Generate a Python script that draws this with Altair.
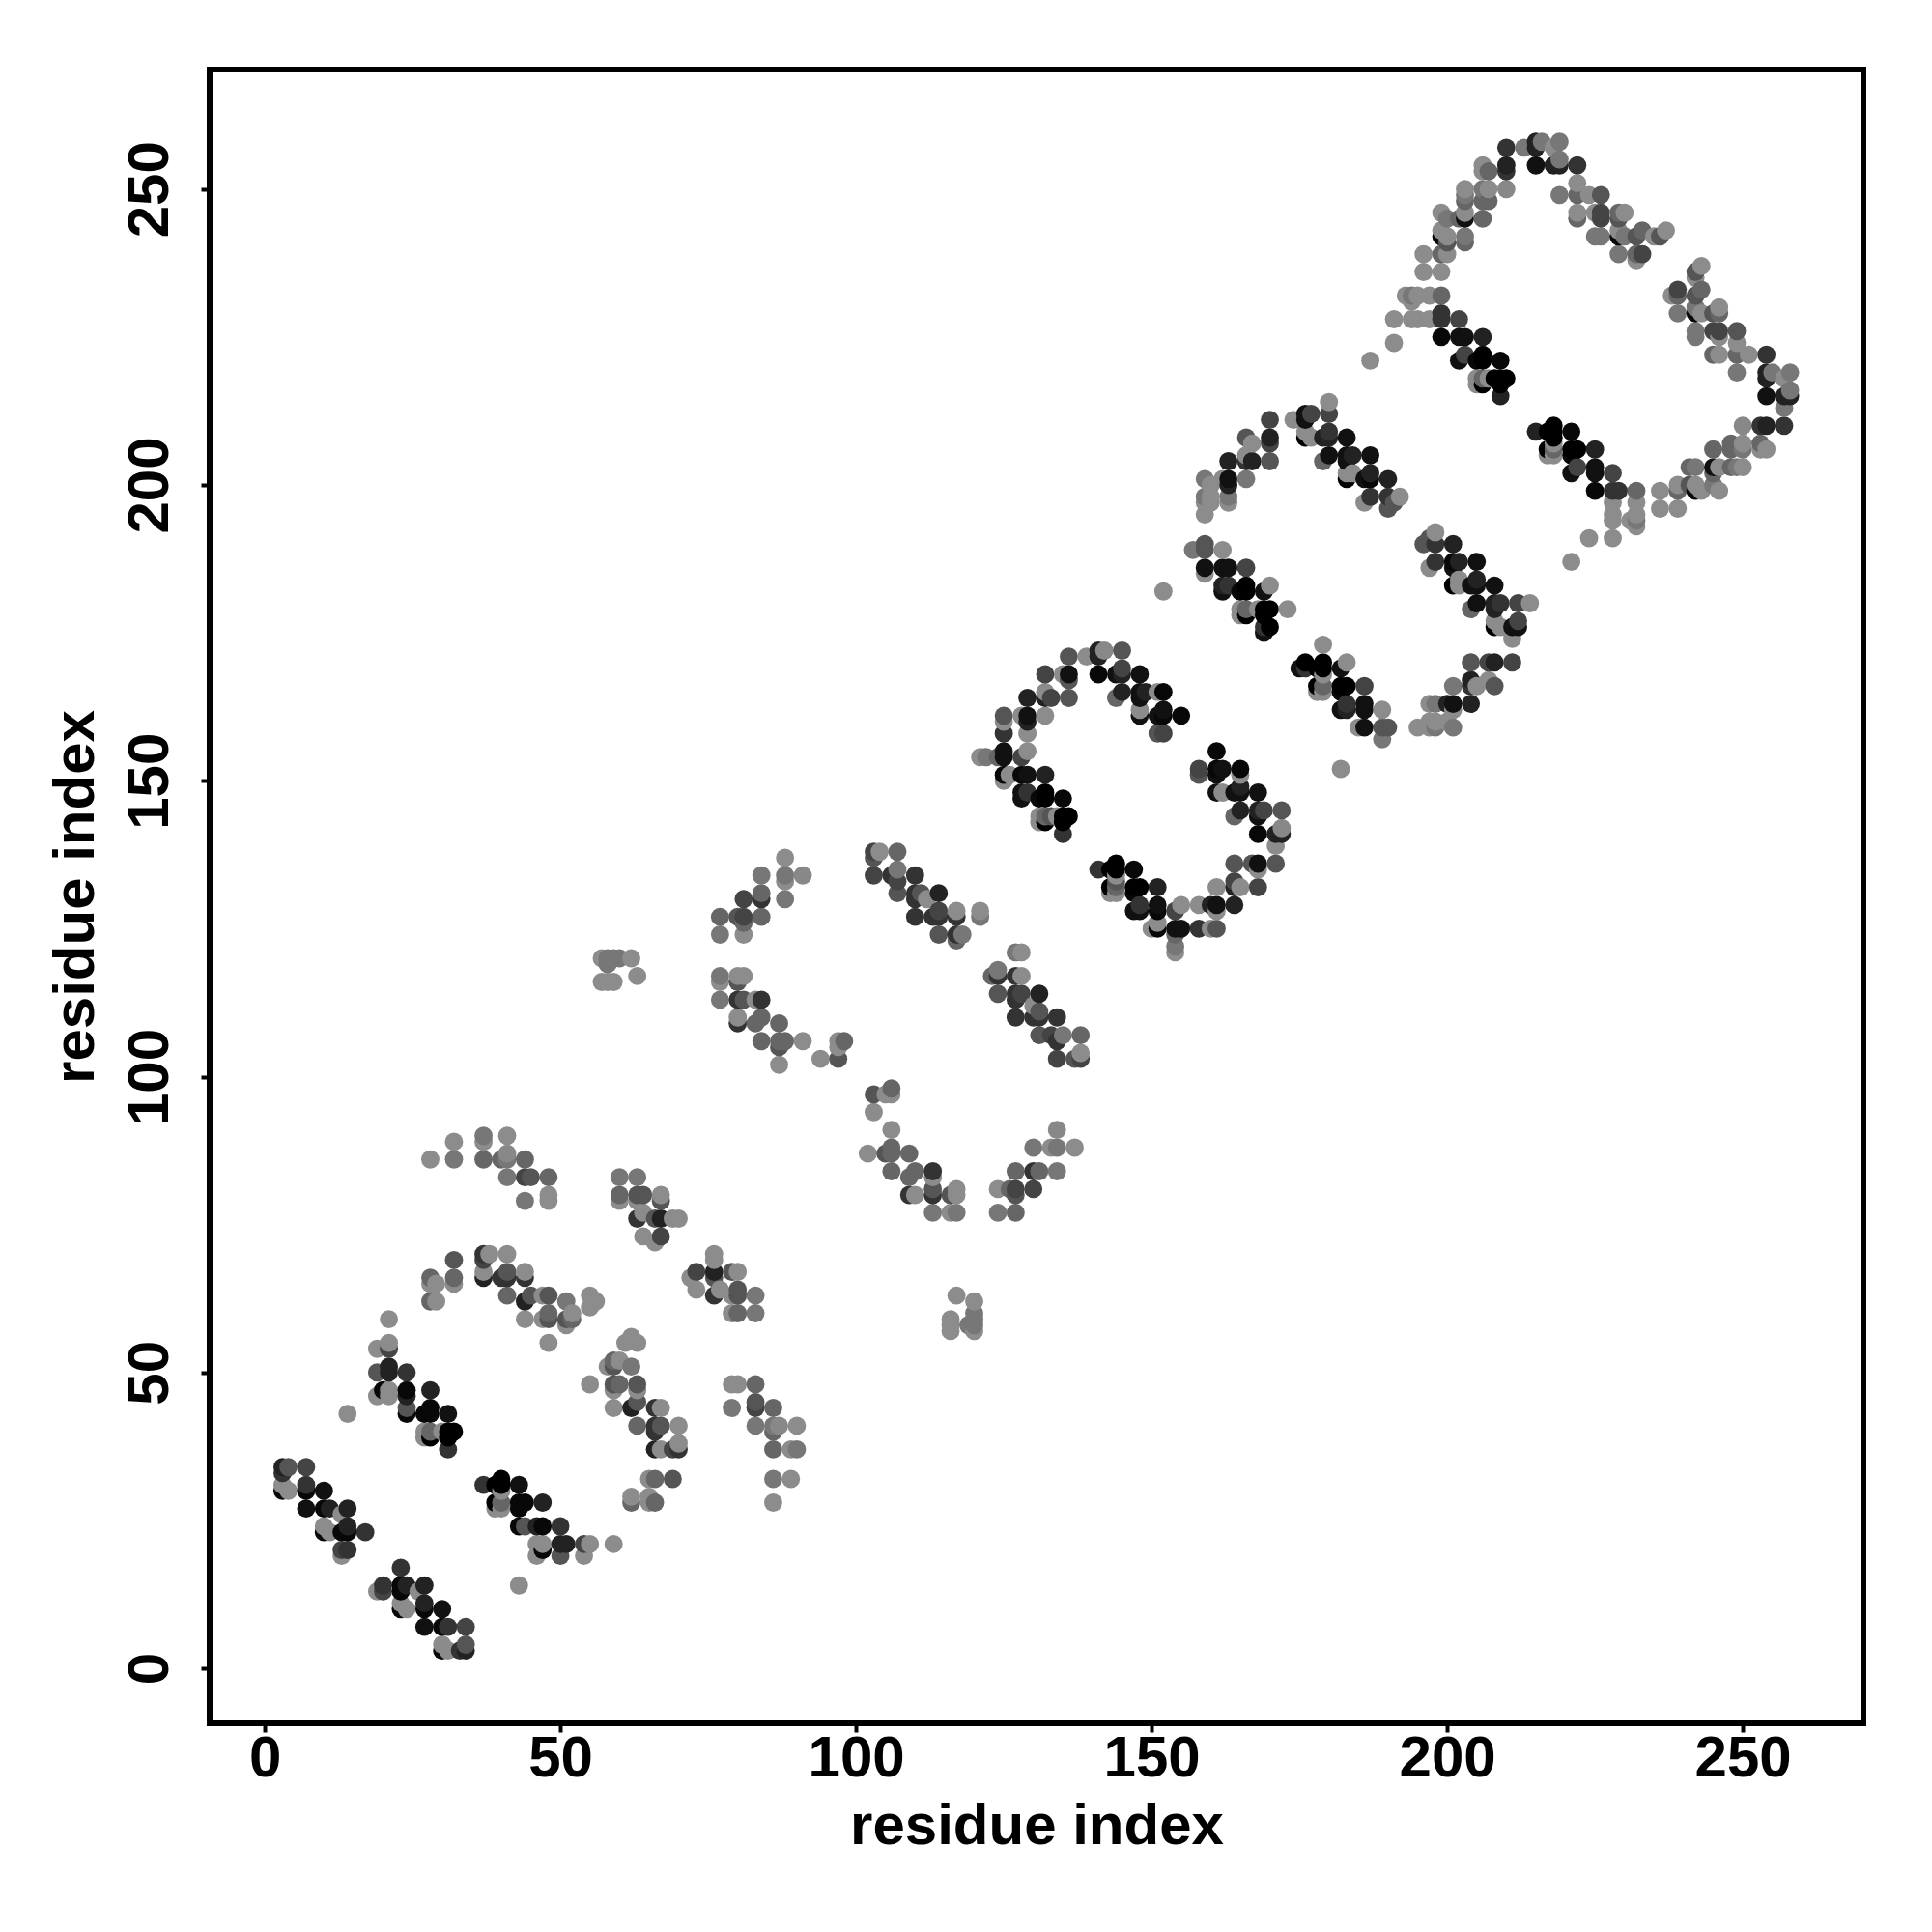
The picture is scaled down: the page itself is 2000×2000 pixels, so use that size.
import altair as alt
import pandas as pd

# (i, j, grey) contacts read from the upper half of the symmetric map
BLOCK_A = [(3,34,34),(4,34,85),(7,34,68),(3,33,51),(3,31,140),(3,30,8),(4,30,140),(7,31,51),(7,30,8),(10,30,17),
           (7,27,17),(10,27,8),(11,27,34),(14,27,34),(13,26,140),(10,23,8),(10,24,140),(11,23,140),(14,24,34),
           (13,23,8),(14,23,8),(17,23,51),(13,19,140),(13,20,68),(14,20,51),(14,43,140)]
BLOCK_B = [(19,54,140),(21,59,140),(21,54,68),(21,55,140),(19,50,85),(21,50,34),(21,51,34),(24,50,51),(19,46,140),
           (20,47,8),(21,46,140),(21,47,140),(24,47,8),(24,46,34),(24,44,85),(24,43,8),(28,47,34),(28,44,8),(27,43,8),
           (28,43,8),(31,43,17),(27,39,140),(27,40,140),(28,39,0),(28,40,102),(30,40,140),(31,39,0),(31,40,0),(32,40,0),(31,37,51)]
BLOCK_C = [(28,62,102),(29,62,140),(28,65,140),(28,66,102),(29,65,140),(32,65,140),(32,66,102),(32,69,85),
           (37,66,34),(37,67,140),(37,69,68),(37,70,51),(38,70,140),(41,70,140),(40,66,51),(41,66,51),(41,67,85),(41,63,102),
           (44,66,51),(44,67,140),(44,62,34),(45,63,85),(44,59,140),(47,63,140),(48,63,85),(48,60,102),(48,59,85),(47,59,140),
           (48,55,140),(51,62,119),(51,59,85),(51,58,140),(52,59,102),(52,60,140),(55,63,140),(56,62,140),(55,61,140)]
BLOCK_D = [(72,66,140),(73,67,68),(73,64,140),(76,70,140),(76,69,140),(76,67,34),(76,66,85),(76,63,51),(77,64,140),
           (79,67,85),(80,67,140),(79,63,140),(80,64,85),(80,63,85),(83,63,119),(79,60,140),(80,60,102),(83,60,119)]
BLOCK_F = [(79,48,140),(80,48,140),(83,48,102),(79,44,119),(83,45,85),(83,44,68),(86,44,102),(83,41,119),(86,41,119),
           (87,41,136),(86,40,102),(90,41,140),(86,37,102),(89,37,140),(90,37,119),(86,32,119),(89,32,140),(86,28,140)]
BLOCK_I = [(57,120,140),(58,120,119),(59,120,119),(60,120,119),(62,120,140),(58,119,119),(57,116,140),(58,116,140),
           (59,116,140),(63,117,140)]
BLOCK_J = [(88,137,140),(84,134,119),(88,134,119),(88,133,140),(91,134,136),(88,130,119),(81,130,68),(84,131,102),(84,130,51),
           (77,127,102),(80,127,85),(81,127,68),(84,127,102),(81,126,102),(77,124,119),(81,124,140)]
BLOCK_K = [(77,117,119),(77,116,140),(80,117,140),(81,117,140),(80,116,85),(77,113,119),(80,113,51),(81,113,85),(83,113,140),
           (84,113,51),(80,110,140),(80,109,51),(83,109,102),(84,110,102),(87,109,102),(84,106,102),(87,106,102),(88,106,102),
           (87,105,85),(91,106,140),(87,102,140),(94,103,140),(97,103,85),(97,105,140),(97,106,140),(98,106,102)]
BLOCK_L = [(103,138,68),(104,138,140),(107,138,102),(103,137,85),(103,134,68),(106,134,51),(107,135,119),(107,133,68),(110,134,51),
           (107,131,85),(110,131,51),(111,131,85),(110,130,51),(114,131,34),(112,130,140),(110,127,51),(113,127,51),(114,128,68),
           (114,127,51),(117,128,140),(117,127,51),(121,128,140),(121,127,119),(114,124,85),(117,124,51),(118,124,119),(117,123,102)]
BLOCK_N = [(136,171,85),(139,171,140),(141,172,34),(141,171,34),(142,172,136),(145,172,85),(141,168,8),(144,168,17),(145,169,68),
           (145,168,34),(148,168,17),(132,168,68),(135,168,140),(136,168,17),(136,167,85),(132,165,140),(129,164,34),(132,164,34),
           (133,164,68),(136,164,85),(145,165,34),(144,164,102),(148,165,17),(148,164,17),(149,165,34),(151,165,140),(152,165,8),
           (148,162,140),(148,161,17),(151,161,17),(152,162,17),(152,161,8),(155,161,8),(151,158,85),(152,158,68),
           (125,161,85),(125,160,140),(128,161,140),(129,161,17),(129,160,34),(132,161,140),(129,158,140),(125,158,51),
           (121,154,140),(122,154,119),(124,154,102),(125,155,17),(125,154,17),(129,155,140),(128,154,68),
           (125,151,8),(126,151,140),(125,150,140),(128,151,8),(129,151,17),(132,151,34),
           (128,148,17),(129,148,51),(128,147,17),(131,147,8),(132,148,0),(132,147,0),(135,147,8),
           (131,143,140),(131,144,140),(132,143,0),(132,144,102),(133,144,85),(134,144,140),(135,144,0),(136,144,0),(135,143,0),(135,141,51)]
BLOCK_P = [(170,211,68),(170,208,34),(170,207,68),(166,208,85),(167,207,140),(166,205,140),(163,204,34),(167,204,34),(166,204,51),
           (170,204,85),(159,201,119),(162,201,140),(163,201,17),(163,200,34),(166,201,119),(160,200,140),(159,198,119),(160,198,140),
           (163,198,119),(163,197,140),(159,197,140),(159,195,140),(160,197,140)]
BLOCK_Q = [(159,190,85),(157,189,119),(159,189,85),(162,189,140),(159,186,17),(159,185,140),(162,186,17),(163,186,17),(166,186,68),
           (162,183,34),(163,183,51),(162,182,17),(165,182,8),(166,183,0),(166,182,0),(169,182,17),(170,183,140),
           (165,178,140),(165,179,140),(166,178,0),(166,179,102),(168,179,140),(169,178,0),(169,179,0),(170,179,0),(173,179,140),
           (169,176,51),(170,176,0),(169,175,17),(152,182,140)]
BLOCK_R = [(180,214,140),(180,212,68),(174,211,140),(176,212,17),(177,212,68),(176,211,17),(176,208,0),(176,209,140),(177,208,140),
           (180,209,51),(179,208,34),(180,208,34),(183,208,17),(179,204,102),(180,205,17),(183,205,17),(184,205,34),(183,204,17),(187,205,17),
           (183,201,0),(183,202,140),(184,202,140),(186,201,17),(187,202,34),(187,201,8),(190,201,34),(186,197,140),(187,198,51),
           (190,198,51),(190,196,85),(191,197,85),(192,198,140)]
BLOCK_T = [(210,257,51),(213,257,119),(215,258,34),(215,257,34),(216,258,119),(219,258,119),(218,257,140),(215,254,17),(218,254,34),
           (219,255,119),(219,254,34),(222,254,51),(210,254,34),(210,253,51),(206,254,140),(207,253,102),(206,253,140),(210,250,136),
           (203,250,140),(203,249,119),(203,248,102),(206,250,119),(207,250,140),(206,248,102),(207,248,102),
           (199,246,140),(200,245,119),(202,245,102),(203,246,140),(203,245,17),(206,245,102),(199,243,140),(200,242,140),(199,242,8),
           (200,241,85),(203,242,119),(203,241,102),(199,239,102),(200,239,140),(196,239,140),(196,236,140),(199,236,140),
           (193,232,140),(194,232,119),(195,232,140),(197,232,140),(199,232,102),(194,231,140),(194,228,140),(195,228,140),(197,228,140),
           (199,229,51),(199,228,51),(202,228,68),(199,225,8),(202,225,17),(203,225,17),(206,225,34),
           (202,221,17),(203,222,68),(205,221,8),(206,222,0),(206,221,0),(209,221,8),
           (205,217,140),(205,218,140),(206,217,0),(206,218,102),(207,218,140),(208,218,0),(209,218,0),(210,218,0),(209,217,0),(209,215,34),
           (187,221,140),(191,224,140),(191,228,140)]
BLOCK_U = [(219,249,119),(222,251,140),(222,249,102),(224,249,140),(226,249,85),(222,246,140),(222,245,102),(225,246,140),(226,246,68),
           (226,245,68),(229,246,102),(230,246,140),(229,245,85),(225,242,119),(226,242,119),(229,243,140),(229,242,8),(230,242,119),
           (232,242,85),(233,243,102),(235,242,140),(236,242,85),(237,243,140),(229,239,119),(232,238,140),(232,239,102),(233,239,68)]

TICKS = [0, 50, 100, 150, 200, 250]
half = (BLOCK_A + BLOCK_B + BLOCK_C + BLOCK_D + BLOCK_F + BLOCK_I + BLOCK_J + BLOCK_K
        + BLOCK_L + BLOCK_N + BLOCK_P + BLOCK_Q + BLOCK_R + BLOCK_T + BLOCK_U)
rows = [(a, b, g) for a, b, g in half] + [(b, a, g) for a, b, g in half]
df = pd.DataFrame(rows, columns=["i", "j", "g"]).sort_values(["i", "j"], kind="stable")
df["c"] = df["g"].map(lambda g: f"#{g:02x}{g:02x}{g:02x}")

FONT = "Liberation Sans"
def axis(**kw):
    return alt.Axis(values=TICKS, grid=False, domain=False, tickColor="black", tickWidth=4, tickSize=9,
                    labelFont=FONT, labelFontWeight="bold", labelFontSize=60, labelColor="black",
                    titleFont=FONT, titleFontWeight="bold", titleFontSize=60, titleColor="black",
                    title="residue index", **kw)

chart = (
    alt.Chart(df)
    .mark_circle(size=355, opacity=1)
    .encode(
        x=alt.X("i:Q", scale=alt.Scale(domain=[-9.33, 270.4], nice=False, zero=False),
                axis=axis(labelPadding=-2, titlePadding=11)),
        y=alt.Y("j:Q", scale=alt.Scale(domain=[-9.3, 270.2], nice=False, zero=False),
                axis=axis(labelAngle=-90, labelAlign="center", labelBaseline="bottom", labelPadding=22, titlePadding=16)),
        color=alt.Color("c:N", scale=None),
    )
    .properties(width=1712, height=1712, background="white", padding={"left": 40, "top": 64, "right": 10, "bottom": 10})
    .configure_view(stroke="black", strokeWidth=6)
)
chart.save("out.html", embed_options={"renderer": "svg", "actions": False})
